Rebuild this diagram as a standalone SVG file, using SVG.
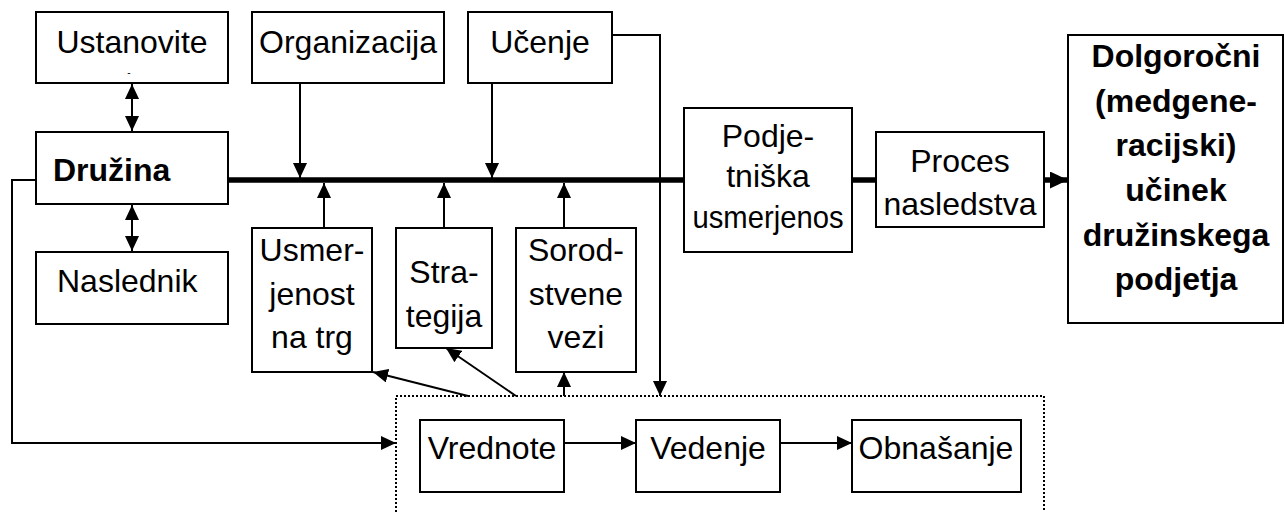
<svg xmlns="http://www.w3.org/2000/svg" width="1285" height="512" viewBox="0 0 1285 512">
  <style>
    .box { fill: #fff; stroke: #000; stroke-width: 2; }
    .t { font-family: "Liberation Sans", Arial, sans-serif; font-size: 32px; fill: #000; text-anchor: middle; }
    .b { font-weight: bold; }
    .ln { fill: none; stroke: #000; stroke-width: 2; }
    .thick { fill: none; stroke: #000; stroke-width: 5.5; }
    .dot { fill: none; stroke: #000; stroke-width: 2; stroke-dasharray: 2 2; }
  </style>
  <defs>
    <marker id="ah" markerUnits="userSpaceOnUse" markerWidth="15" markerHeight="14" refX="15" refY="7" orient="auto-start-reverse">
      <path d="M0,0 L15,7 L0,14 z" fill="#000"/>
    </marker>
    <marker id="ahBig" markerUnits="userSpaceOnUse" markerWidth="18" markerHeight="17" refX="18" refY="8.5" orient="auto">
      <path d="M0,0 L18,8.5 L0,17 z" fill="#000"/>
    </marker>
  </defs>

  <g id="connectors">
    <!-- main thick flow line -->
    <path class="thick" d="M228,180 H684"/>
    <path class="thick" d="M852,180 H876"/>
    <path class="thick" d="M1044,180 H1068" marker-end="url(#ahBig)"/>
    <!-- family <-> founders / successor -->
    <path class="ln" d="M132,84 V131" marker-start="url(#ah)" marker-end="url(#ah)"/>
    <path class="ln" d="M132,205 V251" marker-start="url(#ah)" marker-end="url(#ah)"/>
    <!-- influences onto the main line -->
    <path class="ln" d="M300,83 V178" marker-end="url(#ah)"/>
    <path class="ln" d="M492,83 V178" marker-end="url(#ah)"/>
    <path class="ln" d="M324,228 V183" marker-end="url(#ah)"/>
    <path class="ln" d="M444,228 V183" marker-end="url(#ah)"/>
    <path class="ln" d="M564,228 V183" marker-end="url(#ah)"/>
    <!-- learning to values group -->
    <path class="ln" d="M612,35 H660 V396" marker-end="url(#ah)"/>
    <!-- family loop to values group -->
    <path class="ln" d="M36,180 H12 V443 H396" marker-end="url(#ah)"/>
    <!-- values group upward -->
    <path class="ln" d="M468,396 L373,372" marker-end="url(#ah)"/>
    <path class="ln" d="M516,396 L446,348" marker-end="url(#ah)"/>
    <path class="ln" d="M564,396 V372" marker-end="url(#ah)"/>
    <!-- values chain -->
    <path class="ln" d="M564,443 H636" marker-end="url(#ah)"/>
    <path class="ln" d="M780,443 H852" marker-end="url(#ah)"/>
  </g>

  <!-- dotted grouping frame -->
  <g id="values-group">
    <path class="dot" d="M396,516 V396 H1044 V516"/>
  </g>

  <g id="ustanovite">
    <rect class="box" x="36" y="12" width="192" height="71"/>
    <text class="t" x="132" y="53">Ustanovite</text>
    <text x="129" y="76" font-family="Liberation Sans, Arial, sans-serif" font-size="10" text-anchor="middle">-</text>
  </g>
  <g id="organizacija">
    <rect class="box" x="252" y="12" width="192" height="71"/>
    <text class="t" x="348" y="53">Organizacija</text>
  </g>
  <g id="ucenje">
    <rect class="box" x="468" y="12" width="144" height="71"/>
    <text class="t" x="540" y="53">Učenje</text>
  </g>
  <g id="druzina">
    <rect class="box" x="36" y="132" width="192" height="72"/>
    <text class="t b" x="53" y="181" style="text-anchor:start">Družina</text>
  </g>
  <g id="naslednik">
    <rect class="box" x="36" y="252" width="192" height="72"/>
    <text class="t" x="57" y="292" style="text-anchor:start">Naslednik</text>
  </g>
  <g id="usmerjenost">
    <rect class="box" x="252" y="228" width="120" height="144"/>
    <text class="t" x="312" y="261">Usmer-</text>
    <text class="t" x="312" y="305">jenost</text>
    <text class="t" x="312" y="348">na trg</text>
  </g>
  <g id="strategija">
    <rect class="box" x="396" y="228" width="96" height="120"/>
    <text class="t" x="444" y="283">Stra-</text>
    <text class="t" x="444" y="327">tegija</text>
  </g>
  <g id="sorodstvene">
    <rect class="box" x="516" y="228" width="120" height="144"/>
    <text class="t" x="576" y="261">Sorod-</text>
    <text class="t" x="576" y="305">stvene</text>
    <text class="t" x="576" y="348">vezi</text>
  </g>
  <g id="podjetniska">
    <rect class="box" x="684" y="108" width="168" height="144"/>
    <text class="t" x="768" y="147">Podje-</text>
    <text class="t" x="768" y="187">tniška</text>
    <text class="t" x="768" y="228" textLength="151" lengthAdjust="spacingAndGlyphs">usmerjenos</text>
  </g>
  <g id="proces">
    <rect class="box" x="876" y="132" width="168" height="95"/>
    <text class="t" x="960" y="172">Proces</text>
    <text class="t" x="960" y="215">nasledstva</text>
  </g>
  <g id="ucinek">
    <rect class="box" x="1068" y="35" width="215" height="288"/>
    <text class="t b" x="1176" y="67">Dolgoročni</text>
    <text class="t b" x="1176" y="112">(medgene-</text>
    <text class="t b" x="1176" y="156">racijski)</text>
    <text class="t b" x="1176" y="201">učinek</text>
    <text class="t b" x="1176" y="246">družinskega</text>
    <text class="t b" x="1176" y="290">podjetja</text>
  </g>
  <g id="vrednote">
    <rect class="box" x="420" y="420" width="144" height="72"/>
    <text class="t" x="492" y="459">Vrednote</text>
  </g>
  <g id="vedenje">
    <rect class="box" x="636" y="420" width="144" height="72"/>
    <text class="t" x="708" y="459">Vedenje</text>
  </g>
  <g id="obnasanje">
    <rect class="box" x="852" y="420" width="169" height="72"/>
    <text class="t" x="936" y="459">Obnašanje</text>
  </g>
</svg>
